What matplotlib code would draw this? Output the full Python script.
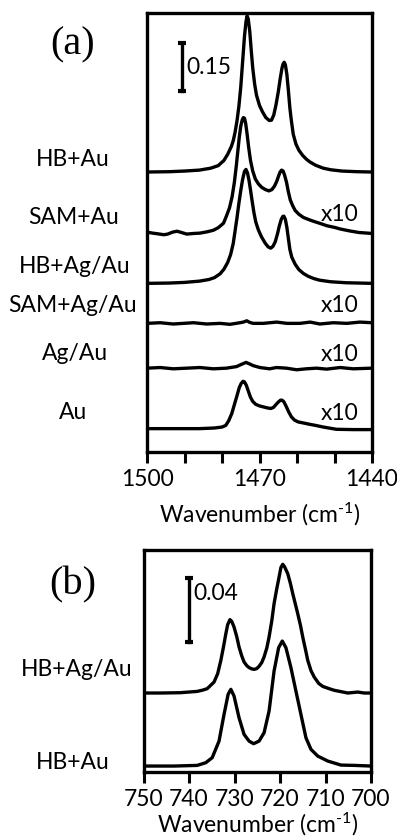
import matplotlib
matplotlib.use("Agg")
import matplotlib.pyplot as plt
import numpy as np
from matplotlib.ticker import FixedLocator

plt.rcParams['font.family'] = ['Lato', 'DejaVu Sans']
plt.rcParams['mathtext.fontset'] = 'custom'
plt.rcParams['mathtext.rm'] = 'Lato'
plt.rcParams['mathtext.it'] = 'Lato:italic'
plt.rcParams['mathtext.bf'] = 'Lato:bold'

# ---------------- panel (a): CH2 scissoring region ----------------
labels_a = ['HB+Au', 'SAM+Au', 'HB+Ag/Au', 'SAM+Ag/Au', 'Ag/Au', 'Au']
scaled_a = [False, True, False, True, True, True]   # traces multiplied by 10
offsets_a = [0.875, 0.683, 0.527, 0.402, 0.262, 0.073]

wn_hb_au = [1500, 1494, 1490, 1486, 1483, 1481, 1479.5, 1478.5, 1477.5, 1477, 1476.5, 1476,
            1475.5, 1475, 1474.5, 1474, 1473.6, 1473.3, 1473, 1472.6, 1472.2, 1471.8, 1471.3,
            1470.8, 1470, 1469.2, 1468.3, 1467.4, 1466.8, 1466.2, 1465.6, 1465, 1464.5, 1464,
            1463.7, 1463.4, 1463.1, 1462.7, 1462.3, 1461.9, 1461.5, 1461, 1460.3, 1459.5,
            1458.5, 1457.5, 1456.5, 1455, 1453, 1451, 1448, 1444, 1440]
abs_hb_au = [0.000, 0.001, 0.003, 0.006, 0.012, 0.020, 0.036, 0.055, 0.080, 0.098, 0.125, 0.160,
             0.205, 0.265, 0.345, 0.425, 0.470, 0.488, 0.478, 0.440, 0.380, 0.325, 0.275,
             0.240, 0.208, 0.188, 0.170, 0.161, 0.162, 0.178, 0.210, 0.250, 0.290, 0.325,
             0.338, 0.343, 0.335, 0.305, 0.255, 0.200, 0.160, 0.118, 0.088, 0.068,
             0.052, 0.040, 0.031, 0.021, 0.012, 0.007, 0.003, 0.001, 0.000]

wn_sam_au = [1500, 1498.5, 1497.2, 1495.5, 1494.5, 1493.2, 1492, 1490.8, 1489.4, 1487.5, 1485.9,
             1484, 1482.3, 1481, 1479.6, 1478.8, 1478, 1477.3, 1476.7, 1476.2, 1475.8, 1475.4,
             1475, 1474.6, 1474.3, 1474, 1473.7, 1473.3, 1472.9, 1472.4, 1471.8, 1471.1,
             1470.3, 1469.4, 1468.4, 1467.5, 1466.7, 1466, 1465.4, 1464.9, 1464.5, 1464.1,
             1463.7, 1463.3, 1462.8, 1462.3, 1461.8, 1461.2, 1460.5, 1459.5, 1458.3, 1457,
             1455.6, 1454, 1452, 1450, 1448.5, 1446, 1443.5, 1440]
abs_sam_au = [0.004, 0.001, -0.001, -0.004, -0.002, 0.004, 0.007, 0.003, -0.002, 0.000, 0.001,
              0.005, 0.010, 0.018, 0.032, 0.055, 0.080, 0.115, 0.160, 0.210, 0.255, 0.300,
              0.335, 0.355, 0.362, 0.360, 0.345, 0.310, 0.270, 0.228, 0.195, 0.170,
              0.155, 0.144, 0.137, 0.133, 0.137, 0.148, 0.163, 0.180, 0.192, 0.198,
              0.195, 0.182, 0.160, 0.130, 0.105, 0.088, 0.072, 0.060, 0.050, 0.044,
              0.038, 0.032, 0.024, 0.019, 0.014, 0.008, 0.003, 0.000]

wn_hb_agau = [1500, 1494, 1490, 1486, 1483.5, 1482, 1480.5, 1479.5, 1478.5, 1477.7, 1477, 1476.5,
              1476, 1475.5, 1475, 1474.5, 1474, 1473.6, 1473.2, 1472.8, 1472.4, 1472, 1471.5,
              1471, 1470.3, 1469.5, 1468.5, 1467.7, 1467, 1466.4, 1465.8, 1465.2, 1464.7,
              1464.2, 1463.8, 1463.5, 1463.1, 1462.7, 1462.3, 1461.9, 1461.4, 1460.5, 1459.5,
              1458.3, 1457, 1455.5, 1454, 1451, 1447, 1440]
abs_hb_agau = [0.000, 0.001, 0.003, 0.007, 0.012, 0.018, 0.030, 0.044, 0.065, 0.090, 0.125, 0.165,
               0.205, 0.250, 0.290, 0.325, 0.350, 0.356, 0.345, 0.322, 0.292, 0.260, 0.222,
               0.192, 0.167, 0.146, 0.126, 0.114, 0.110, 0.116, 0.130, 0.155, 0.180,
               0.200, 0.209, 0.210, 0.200, 0.175, 0.140, 0.106, 0.082, 0.060, 0.043,
               0.031, 0.022, 0.015, 0.010, 0.005, 0.002, 0.000]

wn_sam_agau = [1500, 1496.5, 1493, 1490.3, 1487.6, 1484.1, 1480.5, 1477.9, 1475.2, 1474.3, 1473.4,
               1472.6, 1471.7, 1469, 1465.4, 1462.7, 1459.2, 1456.5, 1453.9, 1450.3, 1446.7,
               1443.2, 1440]
abs_sam_agau = [0.000, 0.002, -0.002, 0.000, 0.002, -0.002, 0.000, -0.003, 0.002, 0.004, 0.008,
                0.003, 0.000, 0.000, 0.004, 0.000, 0.000, 0.004, -0.002, 0.002, 0.000,
                0.004, 0.002]

wn_agau = [1500, 1496.5, 1493, 1489.4, 1485.9, 1482.3, 1478.8, 1476.1, 1474.8, 1473.6, 1472.6,
           1471.7, 1469.9, 1467.3, 1465.5, 1462.8, 1460.1, 1457.5, 1454.8, 1452.1, 1448.5,
           1445, 1440]
abs_agau = [0.000, 0.002, -0.002, 0.000, 0.002, -0.002, 0.000, 0.005, 0.012, 0.018, 0.013,
            0.008, 0.002, -0.002, 0.002, 0.000, -0.005, -0.002, 0.000, -0.003, 0.002,
            -0.002, 0.000]

wn_au = [1500, 1493, 1486, 1482, 1480, 1479, 1478.2, 1477.4, 1476.7, 1476.1, 1475.4, 1474.9,
         1474.4, 1474, 1473.5, 1473, 1472.4, 1471.8, 1471, 1470, 1469, 1468, 1467, 1466.3,
         1465.7, 1465, 1464.4, 1464, 1463.5, 1462.9, 1462.2, 1461.5, 1460.7, 1459.7, 1458,
         1456.6, 1455, 1453, 1451, 1449.5, 1445, 1440]
abs_au = [0.000, 0.000, 0.000, 0.002, 0.005, 0.010, 0.025, 0.047, 0.075, 0.099, 0.128, 0.141,
          0.148, 0.146, 0.135, 0.118, 0.098, 0.085, 0.076, 0.071, 0.068, 0.065, 0.063, 0.066,
          0.074, 0.083, 0.089, 0.089, 0.084, 0.070, 0.052, 0.037, 0.027, 0.021, 0.017,
          0.0135, 0.010, 0.005, 0.001, -0.002, -0.003, -0.003]

traces_a = [(wn_hb_au, abs_hb_au), (wn_sam_au, abs_sam_au), (wn_hb_agau, abs_hb_agau),
            (wn_sam_agau, abs_sam_agau), (wn_agau, abs_agau), (wn_au, abs_au)]

ticks_a = [1500, 1490, 1480, 1470, 1460, 1450, 1440]
ticklabels_a = ['1500', '', '', '1470', '', '', '1440']
scalebar_a = 0.15

# ---------------- panel (b): CH2 rocking region ----------------
labels_b = ['HB+Ag/Au', 'HB+Au']
offsets_b = [0.0491, 0.0037]

wn_b_hb_agau = [750, 746.3, 741.9, 738.2, 737, 736.0, 734.5, 733.7, 733.0, 732.4, 731.9, 731.5,
                731.0, 730.6, 730.1, 729.5, 729.0, 728.4, 727.9, 727.3, 726.8, 726.2, 725.7,
                725.1, 724.6, 724.0, 723.5, 722.9, 722.4, 721.8, 721.3, 720.7, 720.2, 719.8,
                719.4, 719.0, 718.3, 717.7, 717.2, 716.6, 716.1, 715.5, 715.0, 714.4, 713.9,
                713.2, 712.5, 711.5, 710.6, 709.3, 708.1, 705.1, 702.9, 701.5, 700]
abs_b_hb_agau = [0.0, 0.0, 0.0002, 0.0010, 0.0018, 0.0027, 0.0068, 0.0120, 0.0203, 0.0290, 0.0369,
                 0.0425, 0.0456, 0.0445, 0.0410, 0.0350, 0.0286, 0.0230, 0.0193, 0.0170, 0.0158,
                 0.0150, 0.0147, 0.0152, 0.0166, 0.0190, 0.0224, 0.0280, 0.0348, 0.0450, 0.0556,
                 0.0650, 0.0721, 0.0780, 0.0800, 0.0785, 0.0742, 0.0680, 0.0618, 0.0550,
                 0.0493, 0.0420, 0.0348, 0.0270, 0.0203, 0.0140, 0.0100, 0.0060, 0.0041,
                 0.0028, 0.0017, 0.0, 0.0006, 0.0, 0.0]

wn_b_hb_au = [750, 743.3, 738.2, 736.3, 734.9, 733.4, 732.3, 731.4, 730.8, 730.1, 729.0, 727.9,
              726.8, 725.8, 724.6, 723.5, 722.4, 721.3, 720.3, 719.5, 718.7, 717.6, 716.5,
              715.4, 714.3, 713.2, 711.7, 709.5, 706.6, 703.6, 700]
abs_b_hb_au = [0.0, 0.0, 0.0004, 0.0021, 0.0052, 0.0155, 0.0321, 0.0446, 0.0477, 0.0435, 0.0300,
               0.0197, 0.0155, 0.0139, 0.0155, 0.0207, 0.0342, 0.0591, 0.0736, 0.0777, 0.0736,
               0.0612, 0.0466, 0.0321, 0.0176, 0.0104, 0.0062, 0.0031, 0.0006, 0.0004, 0.0]

traces_b = [(wn_b_hb_agau, abs_b_hb_agau), (wn_b_hb_au, abs_b_hb_au)]
ticks_b = [750, 740, 730, 720, 710, 700]
scalebar_b = 0.04

# ---------------- figure ----------------
W, H = 397, 838
fig = plt.figure(figsize=(W / 100, H / 100), dpi=100)


def px_axes(left, top, right, bottom):
    return fig.add_axes([left / W, 1 - bottom / H, (right - left) / W, (bottom - top) / H])


def fx(x):
    return x / W


def fy(y):
    return 1 - y / H


LW = 2.4
label_fs = 16.5
tick_fs = 16.5
serif = ['Liberation Serif', 'DejaVu Serif']
xlabel_text = r'Wavenumber (cm$^{\text{-1}}$)'


def style_axes(ax, label_y):
    for s in ax.spines.values():
        s.set_linewidth(2.4)
        s.set_color('black')
    ax.tick_params(axis='x', direction='out', length=8, width=2.2, labelsize=tick_fs, pad=4)
    ax.tick_params(axis='y', left=False, labelleft=False)
    ax.set_xlabel(xlabel_text, fontsize=tick_fs, va='top')
    ax.xaxis.set_label_coords(0.5, label_y)


ax_a = px_axes(147, 13.3, 372, 452)
for (wn, ab), off in zip(traces_a, offsets_a):
    ax_a.plot(wn, np.asarray(ab) + off, color='black', lw=LW, solid_joinstyle='round',
              solid_capstyle='butt')
ax_a.set_xlim(1500, 1440)
ax_a.set_ylim(0, 1.371)
ax_a.xaxis.set_major_locator(FixedLocator(ticks_a))
ax_a.set_xticklabels(ticklabels_a)
style_axes(ax_a, -0.112)

# scale bar (a)
sb_x_a, sb_y_a = 1490.7, 1.128
ax_a.plot([sb_x_a, sb_x_a], [sb_y_a, sb_y_a + scalebar_a], color='black', lw=2.4)
ax_a.plot([sb_x_a, sb_x_a], [sb_y_a, sb_y_a + scalebar_a], ls='none', marker='_',
          ms=6, mew=3, color='black')
ax_a.annotate(f'{scalebar_a:.2f}', (sb_x_a, sb_y_a + scalebar_a / 2), xytext=(3, 0),
              textcoords='offset points', va='center', ha='left', fontsize=tick_fs)

# sample labels (a)
label_pos_a = [(72.5, 160), (74, 217), (75, 266), (73, 305), (75, 353), (73, 412)]
for text, (x, y) in zip(labels_a, label_pos_a):
    fig.text(fx(x), fy(y), text, ha='center', va='center', fontsize=label_fs)

x10_pos_a = {1: 214.5, 3: 306, 4: 354.5, 5: 413}
for i, scaled in enumerate(scaled_a):
    if scaled:
        fig.text(fx(358), fy(x10_pos_a[i]), 'x10', ha='right', va='center', fontsize=label_fs)

fig.text(fx(73), fy(45), '(a)', ha='center', va='center', fontsize=29, family=serif)

# panel (b)
ax_b = px_axes(143.5, 550, 371, 772)
for (wn, ab), off in zip(traces_b, offsets_b):
    ax_b.plot(wn, np.asarray(ab) + off, color='black', lw=LW, solid_joinstyle='round',
              solid_capstyle='butt')
ax_b.set_xlim(750, 700)
ax_b.set_ylim(0, 0.138)
ax_b.xaxis.set_major_locator(FixedLocator(ticks_b))
ax_b.set_xticklabels([str(t) for t in ticks_b])
style_axes(ax_b, -0.176)

sb_x_b, sb_y_b = 740.0, 0.0808
ax_b.plot([sb_x_b, sb_x_b], [sb_y_b, sb_y_b + scalebar_b], color='black', lw=2.4)
ax_b.plot([sb_x_b, sb_x_b], [sb_y_b, sb_y_b + scalebar_b], ls='none', marker='_',
          ms=6, mew=3, color='black')
ax_b.annotate(f'{scalebar_b:.2f}', (sb_x_b, sb_y_b + scalebar_b * 0.76), xytext=(3, 0),
              textcoords='offset points', va='center', ha='left', fontsize=tick_fs)

label_pos_b = [(77, 669), (72.5, 762)]
for text, (x, y) in zip(labels_b, label_pos_b):
    fig.text(fx(x), fy(y), text, ha='center', va='center', fontsize=label_fs)

fig.text(fx(73), fy(585), '(b)', ha='center', va='center', fontsize=29, family=serif)

fig.savefig('out.png', dpi=100)
